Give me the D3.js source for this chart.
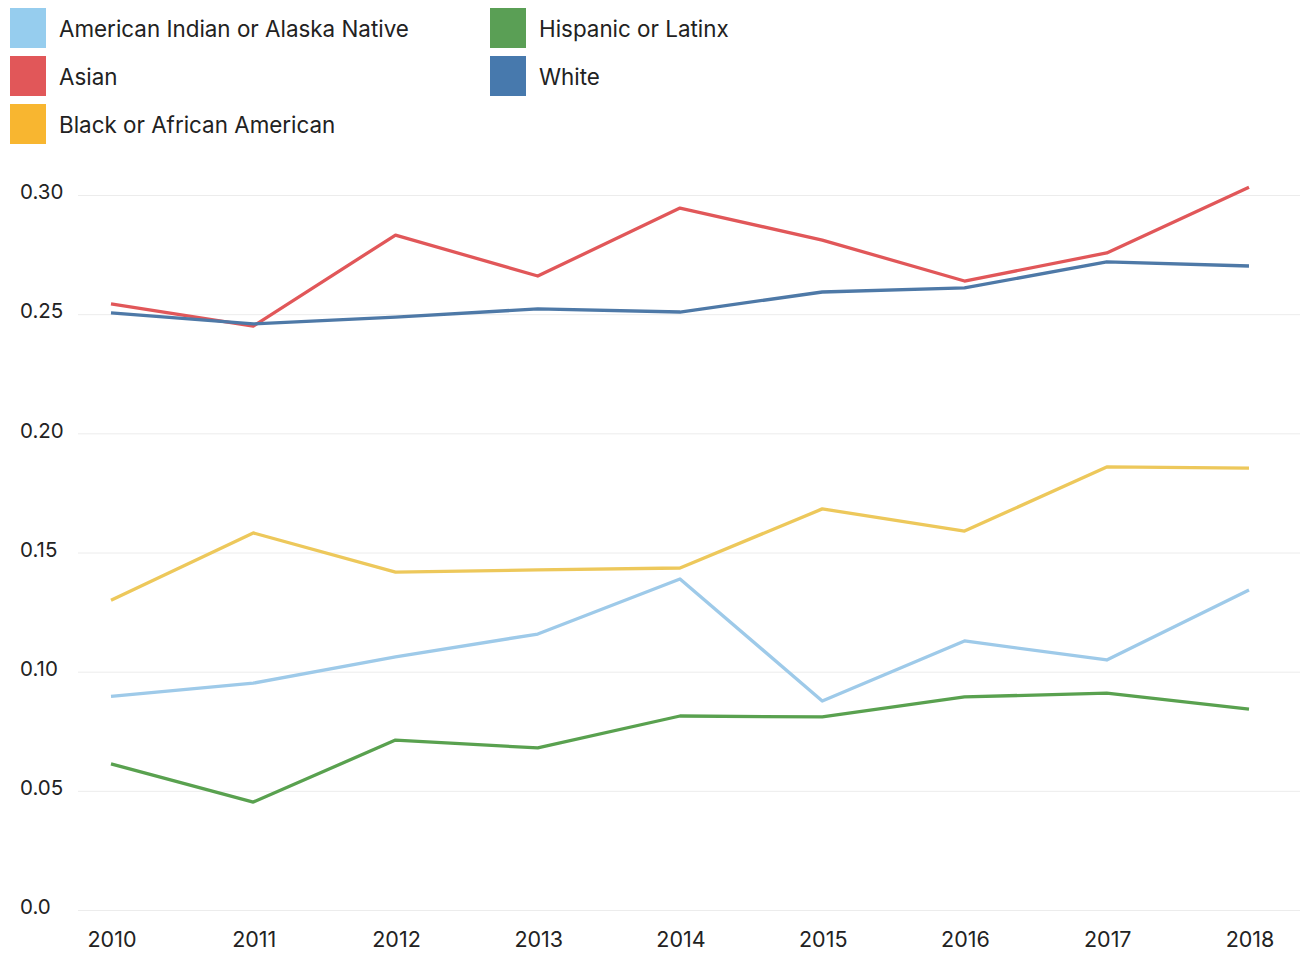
<!DOCTYPE html>
<html>
<head>
<meta charset="utf-8">
<script src="https://cdn.jsdelivr.net/npm/d3@7"></script>
<style>
  body { margin: 0; background: #fff; }
  text { font-family: Inter, "Noto Sans", sans-serif; fill: #222; }
</style>
</head>
<body>
<svg id="chart" width="1302" height="953"></svg>
<script>
var years = [2010, 2011, 2012, 2013, 2014, 2015, 2016, 2017, 2018];
var groups = ["American Indian or Alaska Native", "Asian", "Black or African American", "Hispanic or Latinx", "White"];
var lineColors = ["#9ecae9", "#e15759", "#edc85b", "#59a14f", "#4e79a7"];
var swatchColors = ["#96cdee", "#e15759", "#f8b630", "#5a9f55", "#4779ad"];
var yTicks = [0, 0.05, 0.10, 0.15, 0.20, 0.25, 0.30];
var yTickLabels = ["0.0", "0.05", "0.10", "0.15", "0.20", "0.25", "0.30"];

var aianValues     = [0.0896, 0.0952, 0.1062, 0.1158, 0.1389, 0.0877, 0.1129, 0.1049, 0.1343];
var asianValues    = [0.2543, 0.2450, 0.2832, 0.2660, 0.2945, 0.2811, 0.2639, 0.2757, 0.3033];
var blackValues    = [0.1300, 0.1582, 0.1418, 0.1427, 0.1435, 0.1683, 0.1590, 0.1859, 0.1854];
var hispanicValues = [0.0613, 0.0453, 0.0713, 0.0680, 0.0814, 0.0810, 0.0894, 0.0910, 0.0843];
var whiteValues    = [0.2505, 0.2459, 0.2488, 0.2522, 0.2509, 0.2593, 0.2610, 0.2719, 0.2702];

var seriesValues = [aianValues, asianValues, blackValues, hispanicValues, whiteValues];

var svg = d3.select("#chart");

var x = d3.scalePoint().domain(years).range([111, 1249]);
var y = d3.scaleLinear().domain([0, 0.30]).range([910, 195]);

// gridlines
svg.append("g").selectAll("line")
  .data(yTicks)
  .enter().append("line")
  .attr("x1", 78).attr("x2", 1300)
  .attr("y1", function(d){ return y(d) + 0.5; })
  .attr("y2", function(d){ return y(d) + 0.5; })
  .attr("stroke", "#ececec")
  .attr("stroke-width", 1);

// y labels
svg.append("g").selectAll("text")
  .data(yTicks)
  .enter().append("text")
  .attr("x", 20)
  .attr("y", function(d){ return y(d) - 3; })
  .attr("dy", "0.35em")
  .attr("font-size", 20.5)
  .text(function(d, i){ return yTickLabels[i]; });

// x labels
svg.append("g").selectAll("text")
  .data(years)
  .enter().append("text")
  .attr("x", function(d){ return x(d) + 1; })
  .attr("y", 939)
  .attr("dy", "0.35em")
  .attr("text-anchor", "middle")
  .attr("font-size", 21.5)
  .text(function(d){ return d; });

// lines
var line = d3.line()
  .x(function(d, i){ return x(years[i]); })
  .y(function(d){ return y(d); });

svg.append("g").selectAll("path")
  .data(seriesValues)
  .enter().append("path")
  .attr("d", line)
  .attr("fill", "none")
  .attr("stroke", function(d, i){ return lineColors[i]; })
  .attr("stroke-width", 3.3)
  .attr("stroke-linejoin", "round");

// legend, two columns
var legend = svg.append("g").selectAll("g")
  .data(groups)
  .enter().append("g")
  .attr("transform", function(d, i){
    var col = i < 3 ? 0 : 1;
    var row = i < 3 ? i : i - 3;
    return "translate(" + (10 + col * 480) + "," + (8 + row * 48) + ")";
  });

legend.append("rect")
  .attr("width", 36)
  .attr("height", 40)
  .attr("fill", function(d, i){ return swatchColors[i]; });

legend.append("text")
  .attr("x", 49)
  .attr("y", 21)
  .attr("dy", "0.35em")
  .attr("font-size", 22.4)
  .text(function(d){ return d; });
</script>
</body>
</html>
